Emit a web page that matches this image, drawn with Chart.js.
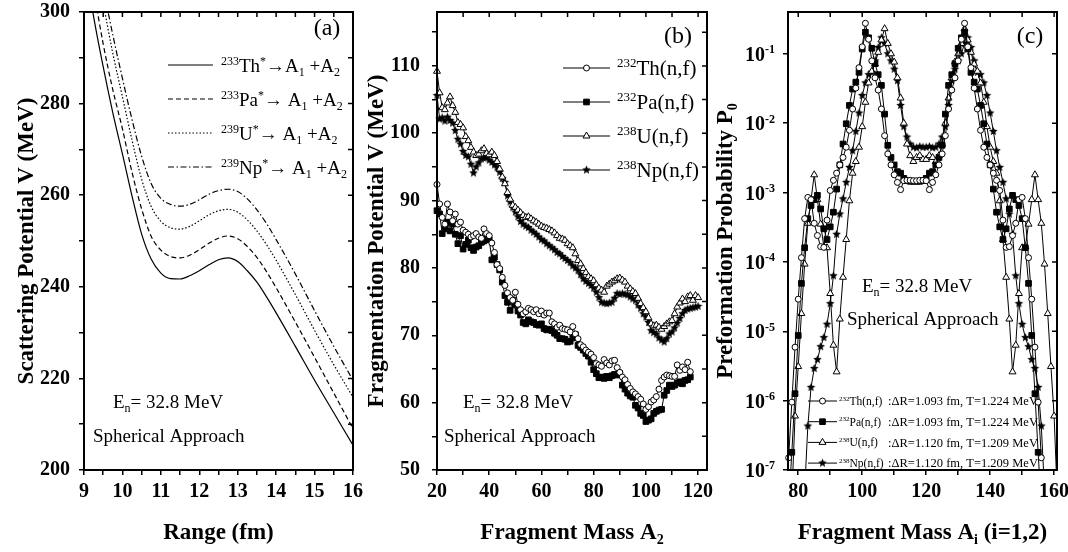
<!DOCTYPE html>
<html>
<head>
<meta charset="utf-8">
<script src="https://cdn.jsdelivr.net/npm/chart.js@4.4.1/dist/chart.umd.min.js"></script>
<style>
body { margin: 0; background: #fff; width: 1068px; height: 552px; position: relative; overflow: hidden; }
canvas { position: absolute; top: 0; }
#grapheA { left: 0; }
#grapheB { left: 356px; }
#grapheC { left: 700px; }
</style>
</head>
<body>
<canvas id="grapheA" width="378" height="552"></canvas>
<canvas id="grapheB" width="370" height="552"></canvas>
<canvas id="grapheC" width="368" height="552"></canvas>
<script>
// --- Panneau (a) : potentiel de diffusion en fonction de R ---
const rayonA = [9.0, 9.25, 9.5, 9.75, 10.0, 10.25, 10.5, 10.75, 11.0, 11.25, 11.5, 11.75, 12.0, 12.25, 12.5, 12.75, 13.0, 13.25, 13.5, 13.75, 14.0, 14.5, 15.0, 15.5, 16.0];
const potTh233 = [312, 299, 288, 278, 269, 259.8, 251.5, 246, 243, 241.8, 241.7, 242.4, 243.5, 244.8, 245.9, 246.3, 245.5, 243.5, 241, 237.8, 234.3, 227, 219.6, 212.5, 205.4];
const potPa233 = [318, 305, 293, 283, 274.5, 265, 257, 251, 248, 246.6, 246.3, 246.9, 248.1, 249.5, 250.6, 251.1, 250.5, 248.8, 246.4, 243.3, 239.8, 232.3, 224.6, 216.8, 209];
const potU239 = [328, 314, 302, 291, 281.5, 272, 263.5, 257.5, 254.3, 252.9, 252.6, 253.2, 254.4, 255.7, 256.6, 256.9, 256.3, 254.6, 252.2, 249.2, 245.8, 238.3, 230.5, 223, 215.9];
const potNp239 = [332, 318, 305.5, 295, 285.5, 276.5, 268.5, 262.5, 259.3, 258, 257.6, 258, 259, 260.2, 261, 261.3, 260.8, 259.2, 256.8, 253.8, 250.3, 242.8, 234.8, 227, 219.6];

// --- Panneau (b) : potentiel de fragmentation, A2 = 20, 21, ... ---
const debutB = 20;
const fragTh = [92.4, 89.5, 87.5, 86.5, 89.5, 88.3, 87.0, 88.0, 86.5, 86.8,
  85.6, 85.3, 85.0, 84.6, 84.8, 85.1, 84.6, 84.4, 85.8, 85.1,
  84.8, 83.7, 82.3, 80.5, 79.9, 78.6, 77.4, 76.3, 75.6, 75.2,
  76.4, 74.6, 73.8, 73.2, 73.5, 74.0, 73.8, 73.5, 73.8, 73.2,
  73.6, 73.0, 73.3, 73.3, 72.0, 71.7, 71.2, 71.5, 71.0, 70.9,
  70.8, 70.5, 71.3, 70.2, 69.5, 68.6, 68.3, 67.8, 67.5, 67.2,
  66.7, 65.8, 65.6, 65.4, 66.4, 65.9, 65.6, 66.2, 66.3, 65.2,
  64.5, 63.8, 63.4, 62.7, 62.1, 61.6, 61.3, 60.9, 60.5, 59.8,
  59.0, 59.4, 60.1, 60.4, 60.9, 62.0, 63.3, 63.8, 64.1, 64.0,
  63.9, 63.9, 65.6, 64.8, 65.3, 64.9, 66.0, 64.6];
const fragPa = [88.5, 88.0, 85.1, 85.8, 86.8, 85.5, 86.5, 85.0, 83.6, 84.8,
  82.8, 83.5, 84.1, 83.0, 82.6, 83.1, 83.3, 83.8, 84.0, 84.4,
  84.2, 81.2, 81.6, 80.5, 79.7, 77.9, 75.9, 74.9, 73.7, 75.2,
  74.5, 73.6, 73.0, 71.9, 71.7, 72.3, 72.0, 71.9, 71.6, 71.5,
  71.7, 71.0, 70.8, 70.9, 70.7, 70.3, 70.0, 69.5, 69.5, 69.4,
  69.0, 69.1, 69.6, 70.1, 68.5, 68.2, 67.8, 67.3, 66.9, 66.0,
  64.9, 64.3, 63.7, 63.8, 63.6, 63.9, 63.7, 64.0, 64.2, 64.1,
  64.3, 62.6, 62.0, 61.4, 61.0, 60.8, 59.6, 59.2, 58.4, 58.1,
  57.2, 57.4, 57.6, 58.4, 58.7, 58.9, 59.0, 61.1, 61.8, 62.6,
  62.4, 62.6, 62.9, 63.1, 62.8, 63.3, 63.4, 63.8];
const fragU = [109.2, 106.0, 103.8, 103.5, 104.5, 105.4, 104.1, 103.1, 101.6, 101.3,
  100.8, 99.5, 98.9, 97.9, 97.2, 96.7, 96.9, 97.4, 97.7, 97.0,
  96.8, 97.2, 96.7, 95.8, 94.7, 93.5, 92.5, 91.2, 90.2, 89.3,
  89.0, 88.6, 88.2, 87.8, 87.5, 87.6, 87.3, 87.0, 86.8, 86.5,
  86.2, 86.0, 85.9, 85.7, 85.5, 85.2, 84.8, 84.4, 84.3, 84.1,
  83.6, 83.3, 83.0, 82.1, 81.1, 80.6, 79.9, 79.3, 78.7, 78.4,
  78.1, 77.5, 77.0, 76.7, 76.4, 77.3, 77.6, 77.9, 78.1, 78.4,
  78.5, 78.2, 77.9, 77.3, 76.9, 76.5, 76.2, 75.5, 74.7, 74.1,
  73.5, 72.6, 71.7, 71.4, 71.5, 71.2, 70.9, 71.3, 71.7, 72.0,
  72.2, 73.2, 74.2, 74.8, 75.4, 75.0, 75.7, 75.9, 75.2, 75.9, 75.6];
const fragNp = [105.6, 102.1, 102.3, 101.8, 102.4, 101.9, 101.5, 100.4, 99.1, 98.4,
  97.3, 96.7, 96.5, 95.4, 94.1, 95.0, 95.6, 96.2, 96.3, 96.4,
  96.0, 95.7, 95.3, 94.9, 94.2, 93.3, 92.7, 90.7, 89.8, 89.0,
  88.3, 87.6, 86.9, 86.5, 86.2, 86.0, 85.6, 85.3, 85.0, 84.6,
  84.2, 84.0, 83.6, 83.3, 83.0, 82.7, 82.3, 82.1, 81.7, 81.4,
  81.1, 80.8, 80.3, 80.0, 79.6, 79.0, 78.4, 78.0, 77.7, 77.4,
  77.0, 76.4, 75.6, 74.9, 74.8, 74.7, 74.8, 74.9, 75.5, 76.2,
  76.1, 76.2, 76.1, 76.0, 75.7, 75.4, 75.2, 74.5, 74.0, 73.2,
  72.7, 71.9, 70.7, 70.4, 70.2, 69.6, 69.3, 69.0, 69.5, 70.2,
  70.5, 71.1, 71.8, 72.5, 73.2, 73.7, 73.9, 74.0, 74.1, 74.2, 74.3];

// --- Panneau (c) : probabilite de preformation P0, masses consecutives ---
const debutTh = 77, debutPa = 77, debutU = 78, debutNp = 82;
const probTh = [1.5e-7, 9.5e-7, 5.9e-6, 2.9e-5, 1.15e-4, 4.2e-4, 8.5e-4, 7.9e-4, 3.6e-4, 2.4e-4,
  1.66e-4, 1.62e-4, 4.0e-4, 1.07e-3, 1.5e-3, 1.9e-3, 2.5e-3, 3.2e-3, 4.5e-3, 7.9e-3,
  1.6e-2, 3.2e-2, 6.3e-2, 0.126, 0.275, 0.162, 0.079, 0.045, 0.030, 0.016,
  6.6e-3, 3.6e-3, 2.5e-3, 1.8e-3, 1.4e-3, 1.1e-3, 1.48e-3, 1.5e-3, 1.5e-3, 1.48e-3,
  1.48e-3, 1.5e-3, 1.5e-3, 1.48e-3, 1.1e-3, 1.4e-3, 1.8e-3, 2.5e-3, 3.6e-3, 6.6e-3,
  0.016, 0.030, 0.045, 0.079, 0.162, 0.275, 0.126, 6.3e-2, 3.2e-2, 1.6e-2,
  7.9e-3, 4.5e-3, 3.2e-3, 2.5e-3, 1.9e-3, 1.5e-3, 1.07e-3, 4.0e-4, 1.62e-4, 1.66e-4,
  2.4e-4, 3.6e-4, 7.9e-4, 8.5e-4, 4.2e-4, 1.15e-4, 2.9e-5, 5.9e-6, 9.5e-7, 1.5e-7];
const probPa = [3e-8, 1.8e-7, 1.26e-6, 8.7e-6, 4.9e-5, 1.6e-4, 4.2e-4, 6.5e-4, 7.9e-4, 9.1e-4,
  5.8e-4, 3.0e-4, 2.1e-4, 3.2e-4, 5.2e-4, 1.12e-3, 2.5e-3, 5.0e-3, 9.8e-3, 1.8e-2,
  3.1e-2, 3.9e-2, 5.4e-2, 0.117, 0.204, 0.17, 0.12, 0.072, 0.05, 0.035,
  0.0135, 4.8e-3, 3.2e-3, 2.5e-3, 2.0e-3, 1.9e-3, 1.6e-3, 1.48e-3, 1.45e-3, 1.45e-3,
  1.45e-3, 1.45e-3, 1.48e-3, 1.6e-3, 1.9e-3, 2.0e-3, 2.5e-3, 3.2e-3, 4.8e-3, 0.0135,
  0.035, 0.05, 0.072, 0.12, 0.17, 0.204, 0.117, 5.4e-2, 3.9e-2, 3.1e-2,
  1.8e-2, 9.8e-3, 5.0e-3, 2.5e-3, 1.12e-3, 5.2e-4, 3.2e-4, 2.1e-4, 3.0e-4, 5.8e-4,
  9.1e-4, 7.9e-4, 6.5e-4, 4.2e-4, 1.6e-4, 4.9e-5, 8.7e-6, 1.26e-6, 1.8e-7, 3e-8];
const probU = [4e-8, 6.0e-7, 3.1e-6, 1.8e-5, 9.3e-5, 3.6e-4, 7.9e-4, 1.8e-3, 7.9e-4, 3.5e-4,
  1.66e-4, 1.6e-4, 3.5e-5, 6.3e-6, 2.6e-6, 1.5e-5, 6.0e-5, 2.1e-4, 7.6e-4, 1.9e-3,
  2.8e-3, 4.5e-3, 8.9e-3, 2.0e-2, 3.8e-2, 5.6e-2, 7.1e-2, 0.105, 0.158, 0.23,
  0.141, 0.1, 0.076, 0.045, 0.023, 0.01, 5.0e-3, 3.4e-3, 2.8e-3, 3.2e-3,
  3.4e-3, 3.0e-3, 3.0e-3, 3.4e-3, 3.2e-3, 2.8e-3, 3.4e-3, 5.0e-3, 0.01, 0.023,
  0.045, 0.076, 0.1, 0.141, 0.23, 0.158, 0.105, 7.1e-2, 5.6e-2, 3.8e-2,
  2.0e-2, 8.9e-3, 4.5e-3, 2.8e-3, 1.9e-3, 7.6e-4, 2.1e-4, 6.0e-5, 1.5e-5, 2.6e-6,
  6.3e-6, 3.5e-5, 1.6e-4, 1.66e-4, 3.5e-4, 7.9e-4, 1.8e-3, 7.9e-4, 3.6e-4, 9.3e-5,
  1.8e-5, 3.1e-6, 6.0e-7, 4e-8];
const probNp = [5e-8, 4.3e-7, 1.55e-6, 2.9e-6, 3.9e-6, 6.0e-6, 8.1e-6, 1.26e-5, 2.5e-5, 6.3e-5,
  2.5e-4, 4.9e-4, 8.1e-4, 1.4e-3, 2.3e-3, 4.0e-3, 7.6e-3, 1.4e-2, 2.5e-2, 3.8e-2,
  5.0e-2, 5.4e-2, 7.9e-2, 0.123, 0.17, 0.141, 0.1, 0.079, 0.06, 0.041,
  0.018, 8.9e-3, 6.3e-3, 5.0e-3, 4.5e-3, 4.4e-3, 4.6e-3, 4.5e-3,
  4.5e-3, 4.6e-3, 4.4e-3, 4.5e-3, 5.0e-3, 6.3e-3, 8.9e-3, 0.018, 0.041, 0.06,
  0.079, 0.1, 0.141, 0.17, 0.123, 7.9e-2, 5.4e-2, 5.0e-2, 3.8e-2, 2.5e-2,
  1.4e-2, 7.6e-3, 4.0e-3, 2.3e-3, 1.4e-3, 8.1e-4, 4.9e-4, 2.5e-4, 6.3e-5, 2.5e-5,
  1.26e-5, 8.1e-6, 6.0e-6, 3.9e-6, 2.9e-6, 1.55e-6, 4.3e-7, 5e-8];

// --- Graduations des axes ---
const gradA_X = [9, 9.5, 10, 10.5, 11, 11.5, 12, 12.5, 13, 13.5, 14, 14.5, 15, 15.5, 16];
const etiqA_X = [9, 10, 11, 12, 13, 14, 15, 16];
const gradA_Y = [200, 210, 220, 230, 240, 250, 260, 270, 280, 290, 300];
const etiqA_Y = [200, 220, 240, 260, 280, 300];
const gradB_X = [20, 30, 40, 50, 60, 70, 80, 90, 100, 110, 120];
const etiqB_X = [20, 40, 60, 80, 100, 120];
const gradB_Y = [50, 55, 60, 65, 70, 75, 80, 85, 90, 95, 100, 105, 110, 115];
const etiqB_Y = [50, 60, 70, 80, 90, 100, 110];
const gradC_X = [80, 90, 100, 110, 120, 130, 140, 150, 160];
const etiqC_X = [80, 100, 120, 140, 160];
const gradC_Y = [1e-7, 1e-6, 1e-5, 1e-4, 1e-3, 1e-2, 1e-1];
const exposantsC_Y = ['-7', '-6', '-5', '-4', '-3', '-2', '-1'];

const POLICE = "'Liberation Serif', 'Times New Roman', serif";
Chart.defaults.font.family = POLICE;
Chart.defaults.color = '#000';

function entiers(debut, n) { const t = []; for (let i = 0; i < n; i++) t.push(debut + i); return t; }
function paires(xs, ys) { return ys.map((y, i) => ({ x: xs[i], y: y })); }

// texte avec exposants / indices : morceaux = [[texte, 'n'|'sup'|'sub'], ...]
function texteRiche(ctx, morceaux, x, y, taille, gras, align) {
  const poids = gras ? 'bold ' : '';
  const police = m => poids + (m === 'n' ? taille : Math.round(taille * 0.62)) + 'px ' + POLICE;
  let largeur = 0;
  morceaux.forEach(([t, m]) => { ctx.font = police(m); largeur += ctx.measureText(t).width; });
  let cx = x;
  if (align === 'center') cx = x - largeur / 2;
  if (align === 'right') cx = x - largeur;
  ctx.fillStyle = '#000'; ctx.textAlign = 'left'; ctx.textBaseline = 'alphabetic';
  morceaux.forEach(([t, m]) => {
    ctx.font = police(m);
    const dy = m === 'sup' ? -taille * 0.38 : (m === 'sub' ? taille * 0.22 : 0);
    ctx.fillText(t, cx, y + dy);
    cx += ctx.measureText(t).width;
  });
}

// etoile pleine pour Np
function etoile(r) {
  const c = document.createElement('canvas');
  const t = Math.ceil(r * 2 + 2);
  c.width = t; c.height = t;
  const g = c.getContext('2d');
  g.beginPath();
  for (let i = 0; i < 10; i++) {
    const ang = -Math.PI / 2 + i * Math.PI / 5;
    const rr = i % 2 ? r * 0.45 : r;
    g.lineTo(t / 2 + rr * Math.cos(ang), t / 2 + rr * Math.sin(ang));
  }
  g.closePath(); g.fillStyle = '#000'; g.fill();
  return c;
}

function echelle(type, pos, min, max, grad, etiq, taille, ecart) {
  return {
    type: type, position: pos, min: min, max: max,
    afterBuildTicks: s => { s.ticks = grad.map(v => ({ value: v })); },
    afterFit: s => {
      if (pos === 'left') s.width = taille; else s.height = taille;
      s.paddingLeft = 0; s.paddingRight = 0; s.paddingTop = 0; s.paddingBottom = 0;
    },
    grid: { drawOnChartArea: false, color: '#000', lineWidth: 1.5, tickLength: 5 },
    border: { color: '#000', width: 2 },
    ticks: {
      autoSkip: false, maxRotation: 0, minRotation: 0, padding: ecart, color: '#000',
      font: { size: 20, weight: 'bold' },
      callback: v => etiq.includes(v) ? String(v) : ''
    }
  };
}

const styles = [
  { pointStyle: 'circle', pointRadius: 3, pointBackgroundColor: '#fff' },
  { pointStyle: 'rect', pointRadius: 4, pointBackgroundColor: '#000' },
  { pointStyle: 'triangle', pointRadius: 4, pointBackgroundColor: '#fff' },
  { pointStyle: etoile(4.5), pointRadius: 4.5, pointBackgroundColor: '#000' }
];

function serie(xs, ys, st) {
  return Object.assign({
    data: paires(xs, ys), borderColor: '#000', borderWidth: 1,
    pointBorderColor: '#000', pointBorderWidth: 1, tension: 0,
    clip: { left: 6, right: 6, top: 6, bottom: 0 }
  }, st);
}

function courbe(ys, tirets) {
  return {
    data: paires(rayonA, ys), borderColor: '#000', borderWidth: 1.2, borderDash: tirets,
    pointRadius: 0, cubicInterpolationMode: 'monotone', clip: 0
  };
}

// --- Decor : cadre, graduations miroir, titres, textes, legende ---
function decor(cfg) {
  return {
    id: 'decor',
    afterDraw(chart) {
      const ctx = chart.ctx, ca = chart.chartArea;
      const sx = chart.scales.x, sy = chart.scales.y;
      ctx.save();
      ctx.strokeStyle = '#000'; ctx.lineWidth = 2;
      ctx.strokeRect(ca.left, ca.top, ca.right - ca.left, ca.bottom - ca.top);
      ctx.lineWidth = 1.5;
      ctx.beginPath();
      sx.ticks.forEach(t => { const p = sx.getPixelForValue(t.value); ctx.moveTo(p, ca.top); ctx.lineTo(p, ca.top + 5); });
      sy.ticks.forEach(t => { const p = sy.getPixelForValue(t.value); ctx.moveTo(ca.right, p); ctx.lineTo(ca.right - 5, p); });
      ctx.stroke();

      texteRiche(ctx, cfg.titreX, (ca.left + ca.right) / 2, 539, 23, true, 'center');
      ctx.save();
      ctx.translate(cfg.xTitreY, (ca.top + ca.bottom) / 2);
      ctx.rotate(-Math.PI / 2);
      texteRiche(ctx, cfg.titreY, 0, 0, 23, true, 'center');
      ctx.restore();

      cfg.textes.forEach(a => texteRiche(ctx, a.m, a.x, a.y, a.t, false, a.align || 'left'));
      if (cfg.legende) cfg.legende(chart, ctx);
      ctx.restore();
    }
  };
}

function legendeMarqueurs(chart, ctx, noms, x1, x2, xt, y0, pas, taille, suite, xs, tailleSuite) {
  chart.data.datasets.forEach((ds, i) => {
    const y = y0 + i * pas;
    ctx.strokeStyle = '#000'; ctx.lineWidth = 1;
    ctx.beginPath(); ctx.moveTo(x1, y); ctx.lineTo(x2, y); ctx.stroke();
    ctx.fillStyle = ds.pointBackgroundColor;
    Chart.helpers.drawPoint(ctx, { pointStyle: ds.pointStyle, radius: ds.pointRadius, borderWidth: 1, rotation: 0 }, (x1 + x2) / 2, y);
    texteRiche(ctx, noms[i], xt, y + taille * 0.35, taille, false, 'left');
    if (suite) texteRiche(ctx, [[suite[i], 'n']], xs, y + tailleSuite * 0.35, tailleSuite, false, 'left');
  });
}

const texteEn = [['E', 'n'], ['n', 'sub'], ['= 32.8 MeV', 'n']];
const texteSph = [['Spherical Approach', 'n']];

// --- Graphe (a) ---
const nomsA = [
  [['233', 'sup'], ['Th', 'n'], ['*', 'sup'], ['\u2192A', 'n'], ['1', 'sub'], [' +A', 'n'], ['2', 'sub']],
  [['233', 'sup'], ['Pa', 'n'], ['*', 'sup'], ['\u2192 A', 'n'], ['1', 'sub'], [' +A', 'n'], ['2', 'sub']],
  [['239', 'sup'], ['U', 'n'], ['*', 'sup'], ['\u2192 A', 'n'], ['1', 'sub'], [' +A', 'n'], ['2', 'sub']],
  [['239', 'sup'], ['Np', 'n'], ['*', 'sup'], ['\u2192 A', 'n'], ['1', 'sub'], [' +A', 'n'], ['2', 'sub']]
];
new Chart(document.getElementById('grapheA'), {
  type: 'line',
  data: { datasets: [courbe(potTh233, []), courbe(potPa233, [5, 3]), courbe(potU239, [1.5, 2]), courbe(potNp239, [6, 2.5, 1.5, 2.5])] },
  options: {
    responsive: false, animation: false, events: [],
    layout: { padding: { left: 0, top: 12, right: 25, bottom: 0 } },
    plugins: { legend: { display: false }, tooltip: { enabled: false } },
    scales: {
      x: echelle('linear', 'bottom', 9, 16, gradA_X, etiqA_X, 82, 5),
      y: echelle('linear', 'left', 200, 300, gradA_Y, etiqA_Y, 84, 9)
    }
  },
  plugins: [decor({
    titreX: [['Range (fm)', 'n']],
    titreY: [['Scattering Potential V (MeV)', 'n']],
    xTitreY: 33,
    textes: [
      { m: [['(a)', 'n']], x: 327, y: 35, t: 24, align: 'center' },
      { m: texteEn, x: 113, y: 408, t: 19 },
      { m: texteSph, x: 93, y: 442, t: 19 }
    ],
    legende: (chart, ctx) => {
      chart.data.datasets.forEach((ds, i) => {
        const y = 65 + i * 34;
        ctx.strokeStyle = '#000'; ctx.lineWidth = 1.2; ctx.setLineDash(ds.borderDash);
        ctx.beginPath(); ctx.moveTo(168, y); ctx.lineTo(213, y); ctx.stroke();
        ctx.setLineDash([]);
        texteRiche(ctx, nomsA[i], 221, y + 7, 19, false, 'left');
      });
    }
  })]
});

// --- Graphe (b) ---
const nomsB = [
  [['232', 'sup'], ['Th(n,f)', 'n']], [['232', 'sup'], ['Pa(n,f)', 'n']],
  [['238', 'sup'], ['U(n,f)', 'n']], [['238', 'sup'], ['Np(n,f)', 'n']]
];
new Chart(document.getElementById('grapheB'), {
  type: 'line',
  data: { datasets: [
    serie(entiers(debutB, fragTh.length), fragTh, styles[0]),
    serie(entiers(debutB, fragPa.length), fragPa, styles[1]),
    serie(entiers(debutB, fragU.length), fragU, styles[2]),
    serie(entiers(debutB, fragNp.length), fragNp, styles[3])
  ] },
  options: {
    responsive: false, animation: false, events: [],
    layout: { padding: { left: 0, top: 12, right: 19, bottom: 0 } },
    plugins: { legend: { display: false }, tooltip: { enabled: false } },
    scales: {
      x: echelle('linear', 'bottom', 20, 123.4, gradB_X, etiqB_X, 82, 5),
      y: echelle('linear', 'left', 50, 118, gradB_Y, etiqB_Y, 81, 12)
    }
  },
  plugins: [decor({
    titreX: [['Fragment Mass A', 'n'], ['2', 'sub']],
    titreY: [['Fragmentation Potential V (MeV)', 'n']],
    xTitreY: 27,
    textes: [
      { m: [['(b)', 'n']], x: 322, y: 43, t: 24, align: 'center' },
      { m: texteEn, x: 107, y: 408, t: 19 },
      { m: texteSph, x: 88, y: 442, t: 19 }
    ],
    legende: (chart, ctx) => legendeMarqueurs(chart, ctx, nomsB, 207, 254, 261, 68, 34, 21)
  })]
});

// --- Graphe (c) ---
const nomsC = [
  [['232', 'sup'], ['Th(n,f)', 'n']], [['232', 'sup'], ['Pa(n,f)', 'n']],
  [['238', 'sup'], ['U(n,f)', 'n']], [['238', 'sup'], ['Np(n,f)', 'n']]
];
const parametresC = [':\u0394R=1.093 fm, T=1.224 MeV', ':\u0394R=1.093 fm, T=1.224 MeV',
  ':\u0394R=1.120 fm, T=1.209 MeV', ':\u0394R=1.120 fm, T=1.209 MeV'];
new Chart(document.getElementById('grapheC'), {
  type: 'line',
  data: { datasets: [
    serie(entiers(debutTh, probTh.length), probTh, styles[0]),
    serie(entiers(debutPa, probPa.length), probPa, styles[1]),
    serie(entiers(debutU, probU.length), probU, styles[2]),
    serie(entiers(debutNp, probNp.length), probNp, styles[3])
  ] },
  options: {
    responsive: false, animation: false, events: [],
    layout: { padding: { left: 0, top: 12, right: 11, bottom: 0 } },
    plugins: { legend: { display: false }, tooltip: { enabled: false } },
    scales: {
      x: echelle('linear', 'bottom', 76.8, 160.9, gradC_X, etiqC_X, 82, 5),
      y: echelle('logarithmic', 'left', 1e-7, 0.4, gradC_Y, [], 88, 9)
    }
  },
  plugins: [decor({
    titreX: [['Fragment Mass A', 'n'], ['i', 'sub'], [' (i=1,2)', 'n']],
    titreY: [['Preformation Probability P', 'n'], ['0', 'sub']],
    xTitreY: 32,
    textes: [
      { m: [['(c)', 'n']], x: 330, y: 43, t: 24, align: 'center' },
      { m: texteEn, x: 162, y: 292, t: 19 },
      { m: texteSph, x: 147, y: 325, t: 19 }
    ],
    legende: (chart, ctx) => {
      const sy = chart.scales.y;
      gradC_Y.forEach((v, i) => {
        texteRiche(ctx, [['10', 'n'], [exposantsC_Y[i], 'sup']], 75, sy.getPixelForValue(v) + 7, 20, true, 'right');
      });
      legendeMarqueurs(chart, ctx, nomsC, 108, 137, 139, 401, 20.7, 11.5, parametresC, 188, 12.5);
    }
  })]
});
</script>
</body>
</html>
